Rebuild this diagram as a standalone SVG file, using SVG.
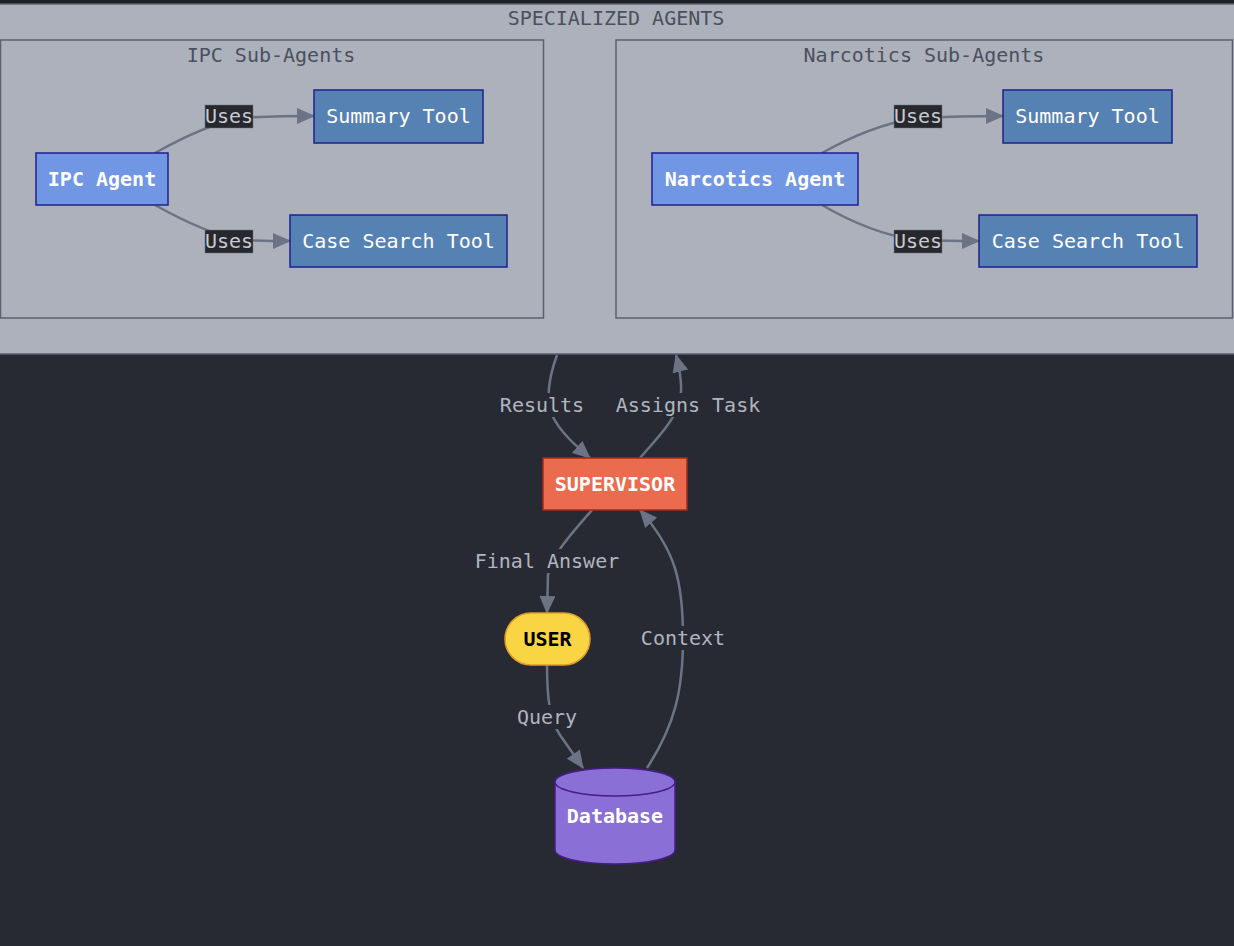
<svg xmlns="http://www.w3.org/2000/svg" width="1234" height="946" viewBox="0 0 1234 946">
<defs>
<marker id="arr" markerUnits="userSpaceOnUse" markerWidth="18" markerHeight="16" viewBox="0 0 18 16" refX="17" refY="8" orient="auto">
<path d="M0,0 L18,8 L0,16 z" fill="#6b7385"/>
</marker>
<style>
text{font-family:"DejaVu Sans Mono","Liberation Mono",monospace;font-size:20px;text-anchor:middle;dominant-baseline:central}
.cl{fill:#adb1bc;stroke:#5c6070;stroke-width:1.5}
.ct{fill:#4b505e}
.e{fill:none;stroke:#6b7385;stroke-width:2.5;marker-end:url(#arr)}
.ul{fill:#26282d;stroke:#6b7385;stroke-width:0.5}
.ut{fill:#c6cad2}
.el{fill:#b0b5c0}
.bg{fill:#282a33}
.agent{fill:#7096e4;stroke:#1f1f8f;stroke-width:1.5}
.tool{fill:#5682b3;stroke:#1f1f8f;stroke-width:1.5}
.w{fill:#ffffff}
.b{font-weight:bold}
</style>
</defs>
<rect x="0" y="0" width="1234" height="946" fill="#282a33"/>
<rect x="0" y="0" width="1234" height="4" fill="#1e1f25"/>
<g id="cluster-specialized">
<rect class="cl" x="-2" y="4" width="1240" height="350"/>
<text class="ct" x="616" y="18">SPECIALIZED AGENTS</text>
</g>
<g id="cluster-ipc">
<rect class="cl" x="0.5" y="40" width="543" height="278"/>
<text class="ct" x="271" y="55">IPC Sub-Agents</text>
</g>
<g id="cluster-narcotics">
<rect class="cl" x="616" y="40" width="616.5" height="278"/>
<text class="ct" x="924" y="55">Narcotics Sub-Agents</text>
</g>
<g id="connectors">
<path class="e" d="M155,153 Q205,125 240,118 Q270,116 314,116"/>
<path class="e" d="M155,205 Q205,233 240,240 Q265,241 290,241"/>
<path class="e" d="M822,153 Q870,126 915,118 Q960,116 1003,116"/>
<path class="e" d="M822,205 Q870,233 915,240 Q950,241 979,241"/>
<path class="e" d="M557,355 C548,380 546,400 552,415 C560,432 575,445 590,458"/>
<path class="e" d="M640,458 C660,435 675,420 680,400 C683,385 680,370 676,355"/>
<path class="e" d="M592,510 C570,535 552,555 548,575 L547,613"/>
<path class="e" d="M547,665 C547,700 550,720 560,735 L583,768"/>
<path class="e" d="M647,768 C675,725 683,690 683,638 C683,580 675,550 640,510"/>
<rect class="ul" x="205" y="105" width="48" height="23"/>
<text class="ut" x="229" y="116">Uses</text>
<rect class="ul" x="205" y="230" width="48" height="23"/>
<text class="ut" x="229" y="241">Uses</text>
<rect class="ul" x="894" y="105" width="48" height="23"/>
<text class="ut" x="918" y="116">Uses</text>
<rect class="ul" x="894" y="230" width="48" height="23"/>
<text class="ut" x="918" y="241">Uses</text>
<rect class="bg" x="498" y="393" width="89" height="24"/>
<text class="el" x="542" y="405">Results</text>
<rect class="bg" x="613" y="393" width="150" height="24"/>
<text class="el" x="688" y="405">Assigns Task</text>
<rect class="bg" x="472" y="549" width="150" height="24"/>
<text class="el" x="547" y="561">Final Answer</text>
<rect class="bg" x="515" y="705" width="64" height="24"/>
<text class="el" x="547" y="717">Query</text>
<rect class="bg" x="638" y="626" width="90" height="24"/>
<text class="el" x="683" y="638">Context</text>
</g>
<g id="ipc-agent">
<rect class="agent" x="36" y="153" width="132" height="52"/>
<text class="w b" x="102" y="179">IPC Agent</text>
</g>
<g id="ipc-summary-tool">
<rect class="tool" x="314" y="90" width="169" height="53"/>
<text class="w" x="398.5" y="116">Summary Tool</text>
</g>
<g id="ipc-case-search-tool">
<rect class="tool" x="290" y="215" width="217" height="52"/>
<text class="w" x="398.5" y="241">Case Search Tool</text>
</g>
<g id="narcotics-agent">
<rect class="agent" x="652" y="153" width="206" height="52"/>
<text class="w b" x="755" y="179">Narcotics Agent</text>
</g>
<g id="narcotics-summary-tool">
<rect class="tool" x="1003" y="90" width="169" height="53"/>
<text class="w" x="1087.5" y="116">Summary Tool</text>
</g>
<g id="narcotics-case-search-tool">
<rect class="tool" x="979" y="215" width="218" height="52"/>
<text class="w" x="1088" y="241">Case Search Tool</text>
</g>
<g id="supervisor">
<rect x="543" y="458" width="144" height="52" fill="#eb6b4f" stroke="#a8281a" stroke-width="1.5"/>
<text class="w b" x="615" y="484">SUPERVISOR</text>
</g>
<g id="user">
<rect x="505" y="613" width="85" height="52" rx="26" ry="26" fill="#f9d544" stroke="#e09a2c" stroke-width="1.5"/>
<text class="b" x="547.5" y="639" fill="#000000">USER</text>
</g>
<g id="database">
<path d="M555,782 L555,850 A60,14 0 0 0 675,850 L675,782" fill="#8a6fd6" stroke="#4a1a8a" stroke-width="1.5"/>
<ellipse cx="615" cy="782" rx="60" ry="14" fill="#8a6fd6" stroke="#4a1a8a" stroke-width="1.5"/>
<text class="w b" x="615" y="816">Database</text>
</g>
</svg>
